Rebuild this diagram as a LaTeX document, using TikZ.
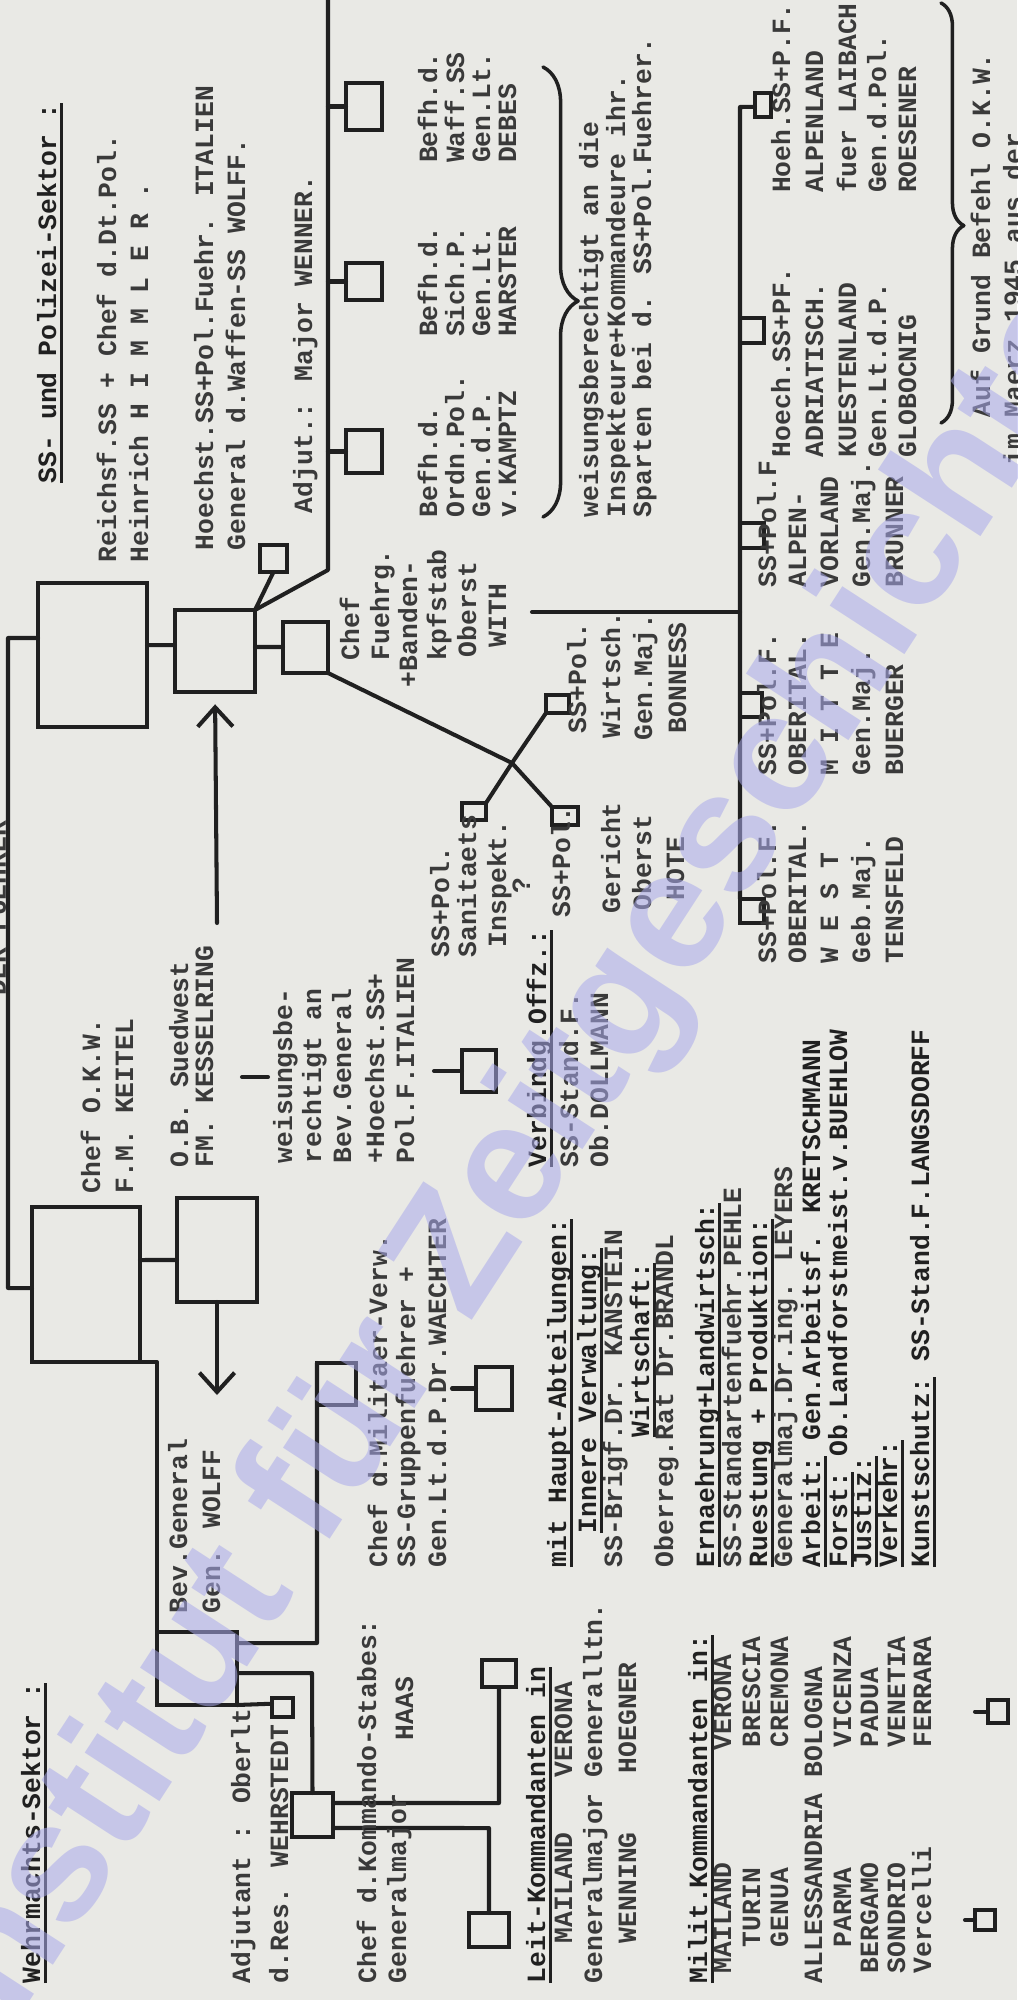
\documentclass[tikz,border=0pt]{standalone}
\usepackage{fontspec}
\usetikzlibrary{arrows.meta,decorations.pathreplacing,calc}
\newfontfamily\tw{Liberation Mono}
\newfontfamily\wmf{Liberation Sans}
\definecolor{paper}{RGB}{233,233,229}
\definecolor{ink}{RGB}{32,32,32}
\definecolor{typ}{RGB}{58,58,58}
\definecolor{wmc}{RGB}{170,170,235}
\newcommand\ul[1]{\setbox0=\hbox{\color{ink}#1}\rlap{\color{ink}\rule[-4pt]{\wd0}{1.5pt}}\box0\relax}
\newcommand\T[4]{\node[tx] (#1) at (#2,-#3) {#4};}
\newcommand\Bx[5]{\node[bx, minimum width={(#3-#2)*0.02cm}, minimum height={(#5-#4)*0.02cm}] (#1) at ({(#2+#3)/2},{-(#4+#5)/2}) {};}
\begin{document}
\begin{tikzpicture}[x=0.02cm,y=0.02cm]
\fill[paper] (0,0) rectangle (1017,-2000);
\useasboundingbox (0,0) rectangle (1017,-2000);
\begin{scope}[shift={(0,-2000)}, rotate=90, transform shape,
  ln/.style={draw=ink, line width=2.3pt, line cap=round, line join=round},
  bx/.style={draw=ink, line width=2.6pt, rectangle, inner sep=0pt, outer sep=0pt},
  tx/.style={anchor=base west, inner sep=0pt, outer sep=0pt, text=typ, font=\tw\bfseries\fontsize{15}{18}\selectfont},
  arr/.style={ln, -{Straight Barb[length=11pt,width=20pt]}},
  brc/.style={ln, line width=2pt, decorate, decoration={brace, amplitude=20pt, aspect=0.52}}]
% ---------------- boxes
\Bx{okw}{638}{793}{32}{140}
\Bx{ob}{698}{802}{177}{257}
\Bx{bev}{295}{368}{157}{237}
\Bx{adj}{283}{302}{272}{293}
\Bx{kdo}{163}{207}{292}{333}
\Bx{mv}{595}{637}{317}{356}
\Bx{wae}{590}{633}{476}{512}
\Bx{vbo}{908}{950}{462}{496}
\Bx{ver}{313}{340}{482}{516}
\Bx{mai}{53}{87}{469}{509}
\Bx{vc}{70}{90}{975}{995}
\Bx{fe}{277}{300}{988}{1008}
\Bx{rfss}{1273}{1417}{38}{147}
\Bx{hss}{1308}{1390}{175}{255}
\Bx{wen}{1428}{1455}{260}{287}
\Bx{bk}{1327}{1378}{283}{328}
\Bx{ba}{1527}{1570}{346}{382}
\Bx{bb}{1700}{1737}{346}{382}
\Bx{bc}{1870}{1917}{346}{382}
\Bx{san}{1180}{1197}{462}{486}
\Bx{ger}{1175}{1193}{552}{578}
\Bx{wir}{1287}{1305}{546}{569}
\Bx{ma}{1077}{1101}{740}{764}
\Bx{mb}{1283}{1307}{740}{762}
\Bx{mc}{1452}{1477}{740}{764}
\Bx{md}{1657}{1682}{740}{764}
\Bx{me}{1883}{1907}{755}{771}
% ---------------- connectors
\coordinate (fa) at (712,-8); \coordinate (fb) at (1362,-8);
\draw[ln] ($(okw.north west)!0.477!(okw.north east)$) -- (fa) -- (fb) -- ($(rfss.north west)!0.618!(rfss.north east)$);
\draw[ln] ($(okw.south west)!0.658!(okw.south east)$) -- ($(ob.north west)!0.404!(ob.north east)$);
\coordinate (c1) at (638,-157);
\draw[ln] (okw.south west) -- (c1) -- (bev.north east);
\draw[ln] (bev.south west) -- ($(adj.north west)!0.7!(adj.north east)$);
\coordinate (c2) at (357,-317);
\draw[ln] ($(bev.south west)!0.849!(bev.south east)$) -- (c2) -- (mv.north east);
\coordinate (c3) at (327,-312);
\draw[ln] ($(bev.south west)!0.438!(bev.south east)$) -- (c3) -- (kdo.east);
\coordinate (a1) at (605,-217);
\draw[arr] (ob.west) -- (a1);
\coordinate (a2) at (1077,-217);
\draw[arr, shorten >=7pt] (a2) -- (hss.west);
\coordinate (mk1) at (923,-242); \coordinate (mk2) at (923,-268);
\draw[ln] (mk1) -- (mk2);
\draw[ln] (vbo.north) -- ++(0,28);
\draw[ln] (wae.north) -- ++(0,24);
\coordinate (c4) at (197,-499); \coordinate (c5) at (172,-489);
\draw[ln] ($(kdo.south west)!0.773!(kdo.south east)$) -- (c4) -- (ver.west);
\draw[ln] ($(kdo.south west)!0.205!(kdo.south east)$) -- (c5) -- (mai.east);
\draw[ln] (vc.north) -- ++(0,10);
\draw[ln] (fe.north) -- ++(0,13);
\draw[ln] ($(rfss.south west)!0.569!(rfss.south east)$) -- ($(hss.north west)!0.573!(hss.north east)$);
\draw[ln] (hss.south east) -- (wen.west);
\coordinate (sj) at (1430,-328); \coordinate (se) at (2000,-328);
\draw[ln] (hss.south east) -- (sj) -- (se);
\draw[ln] (ba.north) -- ++(0,18);
\draw[ln] (bb.north) -- ++(0,18);
\draw[ln] (bc.north) -- ++(0,18);
\draw[ln] ($(hss.south west)!0.549!(hss.south east)$) -- ($(bk.north west)!0.51!(bk.north east)$);
\coordinate (xc) at (1237,-512);
\draw[ln] (bk.south west) -- (xc) -- (ger.north east);
\draw[ln] (san.south east) -- (xc) -- (wir.north west);
\coordinate (tt) at (1388,-532); \coordinate (tb) at (1388,-740);
\draw[ln] (tt) -- (tb);
\coordinate (mr) at (1893,-740);
\draw[ln] (ma.north east) -- (mr) -- ($(me.north west)!0.42!(me.north east)$);
\coordinate (br1a) at (1933,-543); \coordinate (br1b) at (1483,-543);
\draw[brc] (br1a) -- (br1b);
\coordinate (br2a) at (1997,-941); \coordinate (br2b) at (1577,-941);
\draw[brc, decoration={brace, amplitude=13pt, aspect=0.53}] (br2a) -- (br2b);
% ---------------- top (cut off)
\T{dfu}{1005}{6}{DER FUEHRER}
% ---------------- Wehrmacht texts
\T{w1}{17}{40}{\ul{Wehrmachts-Sektor :}}
\T{w2}{17}{250}{Adjutant : Oberlt}
\T{w3}{17}{288}{d.Res. WEHRSTEDT}
\T{w4}{387}{187}{Bev.General}
\T{w5}{387}{220}{Gen. WOLFF}
\T{w6}{807}{100}{Chef O.K.W.}
\T{w7}{807}{133}{F.M. KEITEL}
\T{w8}{833}{188}{O.B. Suedwest}
\T{w9}{833}{213}{FM. KESSELRING}
\T{w10}{837}{292}{weisungsbe-}
\T{w11}{837}{321}{rechtigt an}
\T{w12}{837}{351}{Bev.General}
\T{w13}{837}{384}{+Hoechst.SS+}
\T{w14}{837}{414}{Pol.F.ITALIEN}
\T{w15}{833}{546}{\ul{Verbindg.Offz.:}}
\T{w16}{833}{578}{SS-Stand.F.}
\T{w17}{833}{608}{Ob.DOLLMANN}
\T{w18}{433}{387}{Chef d.Militaer-Verw.}
\T{w19}{433}{415}{SS-Gruppenfuehrer +}
\T{w20}{433}{446}{Gen.Lt.d.P.Dr.WAECHTER}
\T{w21}{17}{376}{Chef d.Kommando-Stabes:}
\T{w22}{17}{406}{Generalmajor}
\T{w23}{260}{413}{HAAS}
\T{w24}{17}{545}{\ul{Leit-Kommandanten in}}
\T{w25}{57}{572}{MAILAND}
\T{w26}{223}{572}{VERONA}
\T{w27}{17}{602}{Generalmajor Generalltn.}
\T{w28}{57}{636}{WENNING}
\T{w29}{227}{636}{HOEGNER}
\T{w30}{17}{707}{\ul{Milit.Kommandanten in:}}
\T{k1}{27}{731}{MAILAND}   \T{k2}{250}{731}{VERONA}
\T{k3}{53}{760}{TURIN}     \T{k4}{253}{760}{BRESCIA}
\T{k5}{53}{788}{GENUA}     \T{k6}{253}{788}{CREMONA}
\T{k7}{17}{822}{ALLESSANDRIA} \T{k8}{223}{822}{BOLOGNA}
\T{k9}{53}{851}{PARMA}     \T{k10}{253}{851}{VICENZA}
\T{k11}{27}{878}{BERGAMO}  \T{k12}{253}{878}{PADUA}
\T{k13}{27}{905}{SONDRIO}  \T{k14}{253}{905}{VENETIA}
\T{k15}{27}{931}{Vercelli} \T{k16}{253}{931}{FERRARA}
\T{h1}{433}{566}{\ul{mit Haupt-Abteilungen:}}
\T{h2}{467}{596}{\ul{Innere Verwaltung:}}
\T{h3}{433}{622}{SS-Brigf.Dr. KANSTEIN}
\T{h4}{563}{649}{\ul{Wirtschaft:}}
\T{h5}{433}{673}{Oberreg.Rat Dr.BRANDL}
\T{h6}{433}{714}{\ul{Ernaehrung+Landwirtsch:}}
\T{h7}{433}{741}{SS-Standartenfuehr.PEHLE}
\T{h8}{433}{767}{\ul{Ruestung + Produktion:}}
\T{h9}{433}{792}{Generalmaj.Dr.ing. LEYERS}
\T{h10}{433}{820}{\ul{Arbeit:} Gen.Arbeitsf. KRETSCHMANN}
\T{h11}{433}{847}{\ul{Forst:} Ob.Landforstmeist.v.BUEHLOW}
\T{h12}{433}{871}{\ul{Justiz:}}
\T{h13}{433}{897}{\ul{Verkehr:}}
\T{h14}{433}{929}{\ul{Kunstschutz:} SS-Stand.F.LANGSDORFF}
% ---------------- SS texts
\T{s1}{1517}{56}{\ul{SS- und Polizei-Sektor :}}
\T{s2}{1438}{116}{Reichsf.SS + Chef d.Dt.Pol.}
\T{s3}{1438}{148}{Heinrich H I M M L E R .}
\T{s4}{1450}{213}{Hoechst.SS+Pol.Fuehr. ITALIEN}
\T{s5}{1450}{245}{General d.Waffen-SS WOLFF.}
\T{s6}{1487}{312}{Adjut.: Major WENNER.}
\T{pa1}{1483}{437}{Befh.d.} \T{pa2}{1483}{464}{Ordn.Pol.} \T{pa3}{1483}{490}{Gen.d.P.} \T{pa4}{1483}{516}{v.KAMPTZ}
\T{pb1}{1663}{437}{Befh.d.} \T{pb2}{1663}{464}{Sich.P.} \T{pb3}{1663}{490}{Gen.Lt.} \T{pb4}{1663}{516}{HARSTER}
\T{pc1}{1837}{437}{Befh.d.} \T{pc2}{1837}{464}{Waff.SS} \T{pc3}{1837}{490}{Gen.Lt.} \T{pc4}{1837}{516}{DEBES}
\T{q1}{1483}{598}{weisungsberechtigt an die}
\T{q2}{1483}{625}{Inspekteure+Kommandeure ihr.}
\T{q3}{1483}{651}{Sparten bei d. SS+Pol.Fuehrer.}
\T{f1}{1340}{359}{Chef}
\T{f2}{1340}{389}{Fuehrg.}
\T{f3}{1313}{417}{+Banden-}
\T{f4}{1340}{446}{kpfstab}
\T{f5}{1343}{476}{Oberst}
\T{f6}{1353}{506}{WITH}
\T{g1}{1043}{449}{SS+Pol.}
\T{g2}{1043}{476}{Sanitaets}
\T{g3}{1053}{506}{Inspekt.}
\T{g4}{1107}{530}{?}
\T{g5}{1083}{570}{SS+Pol.}
\T{g6}{1087}{620}{Gericht}
\T{g7}{1090}{651}{Oberst}
\T{g8}{1100}{684}{HOTE}
\T{g9}{1267}{586}{SS+Pol.}
\T{g10}{1262}{620}{Wirtsch.}
\T{g11}{1260}{652}{Gen.Maj.}
\T{g12}{1267}{686}{BONNESS}
\T{m1}{1037}{776}{SS+Pol.F.} \T{m2}{1037}{806}{OBERITAL.} \T{m3}{1037}{838}{W E S T} \T{m4}{1037}{870}{Geb.Maj.} \T{m5}{1037}{903}{TENSFELD}
\T{n1}{1225}{776}{SS+Pol.F.} \T{n2}{1225}{806}{OBERITAL.} \T{n3}{1225}{838}{M I T T E} \T{n4}{1225}{870}{Gen.Maj.} \T{n5}{1225}{903}{BUERGER}
\T{o1}{1413}{776}{SS+Pol.F.} \T{o2}{1413}{806}{ALPEN-} \T{o3}{1413}{838}{VORLAND} \T{o4}{1413}{870}{Gen.Maj.} \T{o5}{1413}{903}{BRUNNER}
\T{r1}{1543}{790}{Hoech.SS+PF.} \T{r2}{1543}{823}{ADRIATISCH.} \T{r3}{1543}{856}{KUESTENLAND} \T{r4}{1543}{886}{Gen.Lt.d.P.} \T{r5}{1543}{916}{GLOBOCNIG}
\T{t1}{1807}{790}{Hoeh.SS+P.F.} \T{t2}{1807}{823}{ALPENLAND} \T{t3}{1807}{856}{fuer LAIBACH} \T{t4}{1807}{886}{Gen.d.Pol.} \T{t5}{1807}{916}{ROESENER}
\T{z1}{1583}{990}{Auf Grund Befehl O.K.W.}
\T{z2}{1535}{1022}{im Maerz 1945 aus der}
\end{scope}
\node[rotate=57, text=wmc, text opacity=0.55, inner sep=0pt, font=\wmf\bfseries\fontsize{96}{96}\selectfont] (wm) at (515,-1175) {Institut für Zeitgeschichte};
\end{tikzpicture}
\end{document}
